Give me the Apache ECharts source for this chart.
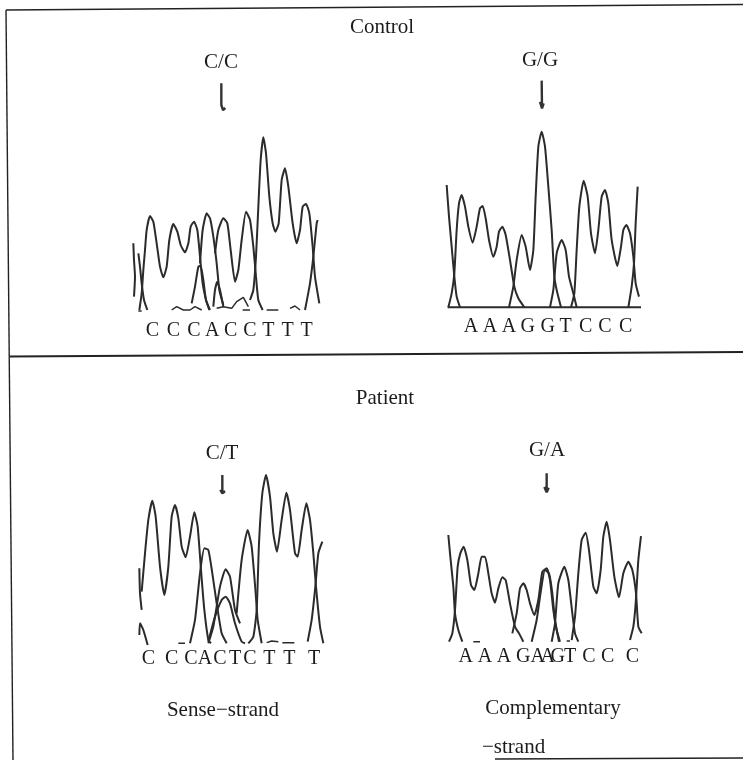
<!DOCTYPE html>
<html><head><meta charset="utf-8">
<style>html,body{margin:0;padding:0;background:#fff}#c{width:743px;height:760px}</style>
<script src="https://cdn.jsdelivr.net/npm/echarts@6/dist/echarts.min.js"></script>
</head><body><div id="c"></div>
<script>
// Each panel: traces as [scan position, signal above baseline].
var controlSenseTraces = [
 [[40,200],[42,150],[45,100],[42,40]],
 [[55,170],[60,130],[65,80],[72,30],[82,0]],
 [[58,0],[65,50],[70,120],[75,180],[80,240],[90,282],[100,265],[110,200],[120,130],[130,98],[140,130],[148,210],[160,258],[172,235],[182,195],[195,173],[205,200],[212,250],[222,265],[232,240],[240,160],[248,80],[258,30],[268,0]],
 [[215,20],[225,70],[235,130],[242,132],[250,90],[258,30],[270,0]],
 [[240,140],[248,240],[260,290],[270,275],[280,220],[290,140],[298,60],[310,15]],
 [[280,10],[285,60],[292,85],[300,60],[310,10]],
 [[285,170],[295,240],[310,275],[322,260],[332,180],[345,85],[355,120],[365,210],[378,295],[390,270],[400,190],[408,100],[415,30],[428,0]],
 [[390,30],[400,60],[408,160],[415,310],[422,450],[430,518],[438,470],[448,340],[458,260],[466,235],[476,260],[485,390],[495,425],[505,370],[518,260],[530,200],[540,240],[548,310],[558,318],[568,290],[578,190],[585,100],[598,20]],
 [[555,0],[570,80],[580,160],[590,260],[593,270]]
];
var controlSenseNoise = [
 [[55,-3],[65,-3]],
 [[155,0],[170,10],[190,0],[210,0],[225,10],[245,0]],
 [[290,5],[310,10],[335,5],[350,25],[370,38],[385,10]],
 [[368,0],[390,0]],
 [[440,0],[475,0]],
 [[510,5],[525,12],[540,0]]
];
var controlSenseBases = ["C","C","C","A","C","C","T","T","T"];
var controlSenseCalls = [97,160,222,277,332,390,445,503,560];

var controlCompTraces = [
 [[35,367],[42,272],[50,182],[58,92],[65,32],[75,0]],
 [[40,0],[50,42],[58,102],[65,232],[72,312],[80,337],[90,302],[100,242],[113,194],[125,242],[135,297],[143,304],[152,267],[162,202],[175,152],[185,182],[192,227],[202,242],[212,217],[225,142],[238,62],[250,27],[268,0]],
 [[222,0],[235,62],[245,142],[260,217],[272,182],[285,112],[295,172],[302,332],[310,482],[320,527],[330,482],[340,362],[350,232],[358,92],[365,52],[378,0]],
 [[345,0],[355,52],[365,162],[380,202],[392,172],[402,92],[415,42],[425,0]],
 [[408,0],[418,42],[425,172],[433,302],[446,380],[458,332],[468,222],[480,162],[490,232],[500,332],[510,352],[520,312],[530,202],[547,124],[558,182],[565,232],[574,247],[585,222],[595,152],[602,72],[612,32]],
 [[580,0],[590,62],[597,132],[602,252],[608,362]]
];
var controlCompNoise = [[[38,0],[618,0]]];
var controlCompBases = ["A","A","A","G","G","T","C","C","C"];
var controlCompCalls = [108,165,222,278,338,392,452,510,572];

var patientSenseTraces = [
 [[43,225],[45,150],[50,100]],
 [[43,25],[45,60],[55,40],[68,-5]],
 [[50,155],[60,270],[70,370],[82,428],[92,380],[105,230],[118,145],[130,230],[140,380],[150,415],[160,375],[170,290],[182,258],[195,320],[208,393],[218,350],[228,220],[238,100],[250,10],[258,0]],
 [[195,0],[210,70],[225,210],[238,285],[250,280],[262,210],[275,120],[290,30],[305,0]],
 [[250,0],[265,50],[285,170],[302,222],[315,200],[330,100],[345,60]],
 [[250,5],[270,80],[290,130],[302,140],[315,120],[330,60],[350,5],[360,0]],
 [[335,90],[350,250],[368,340],[380,290],[392,150],[398,70],[410,0]],
 [[370,0],[385,20],[395,100],[402,300],[412,450],[423,505],[435,440],[445,330],[456,275],[470,370],[484,452],[495,400],[510,270],[518,260],[530,340],[544,420],[555,370],[565,270],[573,170],[585,50],[595,0]],
 [[548,5],[560,70],[572,180],[580,270],[592,305]]
];
var patientSenseNoise = [
 [[160,0],[180,0]],
 [[425,2],[440,7],[460,5]],
 [[472,2],[508,2]]
];
var patientSenseBases = ["C","C","C","A","C","T","C","T","T","T"];
var patientSenseCalls = [70,140,198,240,285,330,375,433,493,567];

var patientCompTraces = [
 [[40,320],[45,265],[55,165],[60,85],[70,35],[82,0]],
 [[42,0],[52,25],[60,95],[68,225],[76,265],[86,285],[97,245],[108,170],[118,155],[130,205],[140,255],[150,255],[160,205],[170,145],[180,117],[190,160],[202,193],[212,185],[225,115],[240,45],[252,25],[265,0]],
 [[232,25],[245,85],[255,160],[265,175],[275,155],[285,115],[298,80],[310,125],[322,210],[335,220],[345,185],[355,95],[365,35],[375,0]],
 [[290,0],[305,65],[318,155],[330,215],[342,205],[352,145],[360,65],[372,0]],
 [[350,0],[360,55],[370,175],[388,225],[400,185],[412,85],[420,25],[430,0]],
 [[410,5],[420,75],[430,205],[440,305],[452,327],[462,275],[475,165],[485,145],[497,215],[505,315],[515,360],[525,305],[538,195],[552,133],[565,205],[580,240],[592,215],[603,145],[610,45],[620,25]],
 [[585,5],[595,45],[602,115],[610,245],[618,317]]
];
var patientCompNoise = [[[115,0],[135,0]],[[395,2],[405,2]]];
var patientCompBases = ["A","A","A","G","A","A","G","T","C","C","C"];
var patientCompCalls = [92,150,207,265,308,338,368,405,462,518,592];

var panelTitles = ["Control","C/C","G/G","Patient","C/T","G/A","Sense\u2212strand","Complementary","\u2212strand"];

// layout: page position of each panel, with 3 scan units per pixel
var panels = [
 {left:120,top:90,w:210,base:310,floor:345,tr:controlSenseTraces,no:controlSenseNoise,bases:controlSenseBases,calls:controlSenseCalls,callY:-62,arrow:[[304,680],[304,615],[309,600],[316,606]]},
 {left:435,top:90,w:215,base:307.3,floor:345,tr:controlCompTraces,no:controlCompNoise,bases:controlCompBases,calls:controlCompCalls,callY:-58,arrow:[[320,680],[321,600],[315,616],[321,597],[326,612]]},
 {left:125,top:460,w:210,base:643.3,floor:680,tr:patientSenseTraces,no:patientSenseNoise,bases:patientSenseBases,calls:patientSenseCalls,callY:-47,arrow:[[292,505],[292,452],[300,456],[292,450],[286,460]]},
 {left:435,top:460,w:215,base:641.7,floor:680,tr:patientCompTraces,no:patientCompNoise,bases:patientCompBases,calls:patientCompCalls,callY:-45,arrow:[[335,505],[335,450],[328,464],[335,448],[341,462]]}
];
var ink='#2b2b2b', serif='"Liberation Serif","Times New Roman",serif';
var grids=[],xs=[],ys=[],series=[];
panels.forEach(function(p,i){
  grids.push({left:p.left,top:p.top,width:p.w,height:p.floor-p.top,containLabel:false});
  xs.push({type:'value',gridIndex:i,min:0,max:p.w*3,show:false});
  ys.push({type:'value',gridIndex:i,min:-(p.floor-p.base)*3,max:(p.base-p.top)*3,show:false});
  p.tr.forEach(function(t){
    series.push({type:'line',xAxisIndex:i,yAxisIndex:i,data:t,symbol:'none',smooth:0.18,clip:false,silent:true,
      lineStyle:{color:ink,width:2}});
  });
  p.no.forEach(function(t){
    series.push({type:'line',xAxisIndex:i,yAxisIndex:i,data:t,symbol:'none',clip:false,silent:true,
      lineStyle:{color:ink,width:i===1&&t.length===2?2:1.5}});
  });
  series.push({type:'line',xAxisIndex:i,yAxisIndex:i,data:p.arrow,symbol:'none',clip:false,silent:true,
    lineStyle:{color:'#333',width:2.4}});
  series.push({type:'scatter',xAxisIndex:i,yAxisIndex:i,symbolSize:0,clip:false,silent:true,
    itemStyle:{opacity:1},
    data:p.calls.map(function(x,k){return {value:[x,p.callY],name:p.bases[k]};}),
    label:{show:true,position:'inside',formatter:'{b}',fontFamily:serif,fontSize:20,color:'#1c1c1c'}});
});
function txt(s,x,y,align){return {type:'text',left:align==='l'?x:undefined,x:align==='l'?undefined:x,y:y,
  style:{text:s,x:0,y:0,fill:'#1c1c1c',font:'21px '+serif,textAlign:align==='l'?'left':'center',textVerticalAlign:'middle'}};}
function rule(a,b,c,d,w){return {type:'line',shape:{x1:a,y1:b,x2:c,y2:d},style:{stroke:'#222',lineWidth:w}};}
var graphics=[
 rule(6,10,743,4.5,1.6),
 rule(6,10,13,760,1.4),
 rule(10,356.5,743,352,1.8),
 rule(495,759,743,758,1.6),
 txt(panelTitles[0],382,27),txt(panelTitles[1],221,62),txt(panelTitles[2],540,60),
 txt(panelTitles[3],385,398),txt(panelTitles[4],222,453),txt(panelTitles[5],547,450),
 txt(panelTitles[6],223,710),txt(panelTitles[7],553,708),txt(panelTitles[8],482,747,'l')
];
var chart=echarts.init(document.getElementById('c'),null,{renderer:'canvas'});
chart.setOption({animation:false,backgroundColor:'#fff',grid:grids,xAxis:xs,yAxis:ys,series:series,graphic:graphics});
</script></body></html>
